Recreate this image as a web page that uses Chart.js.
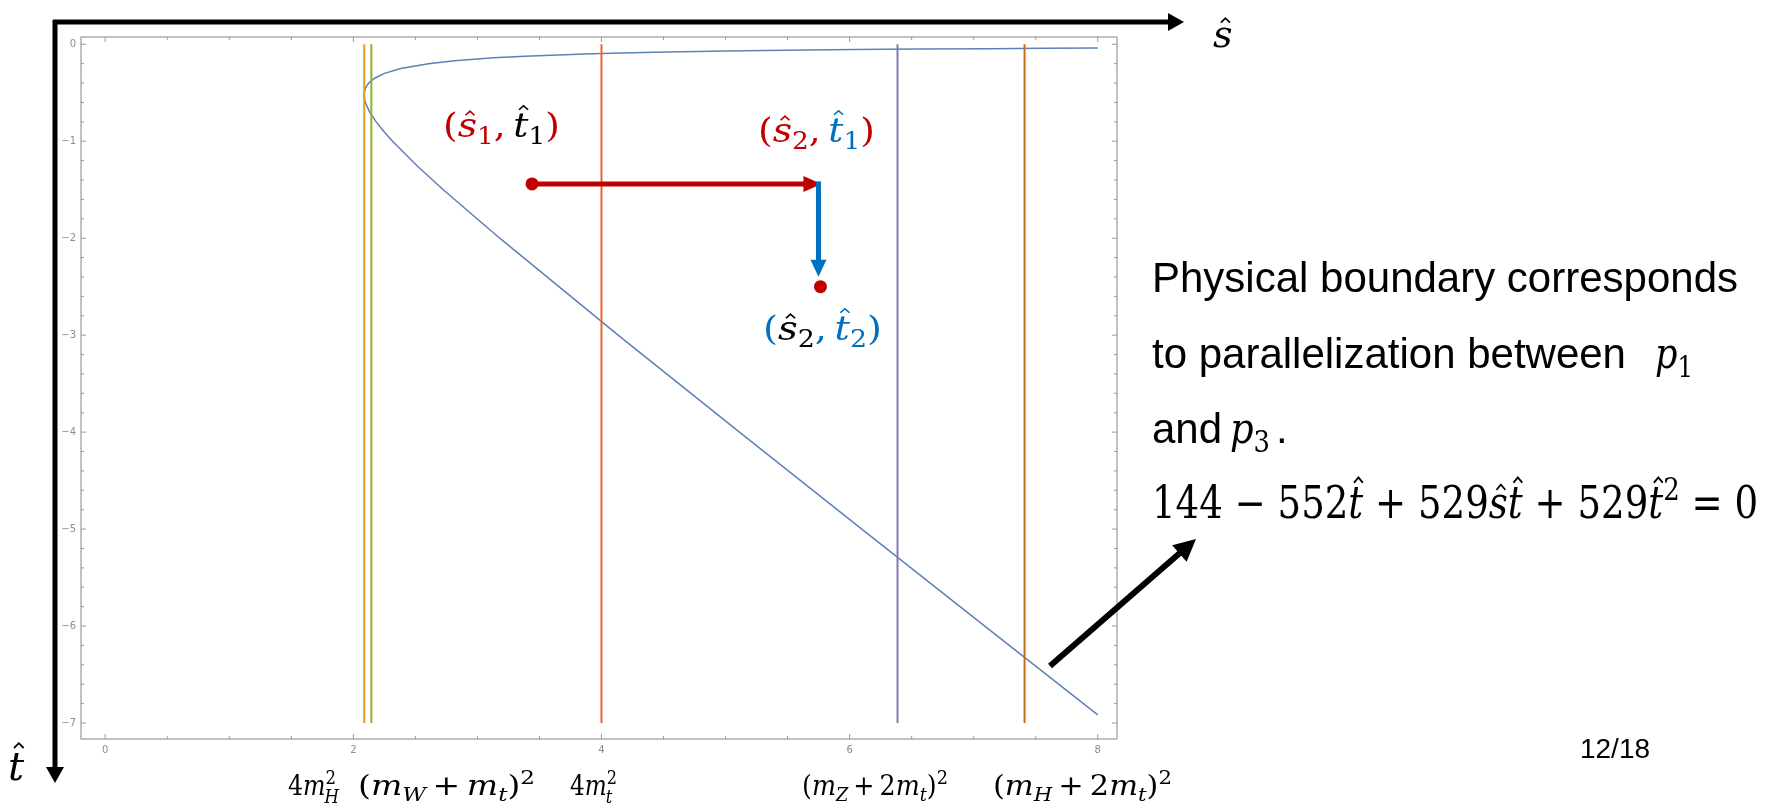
<!DOCTYPE html>
<html>
<head>
<meta charset="utf-8">
<script src="https://cdn.jsdelivr.net/npm/chart.js@4.4.0/dist/chart.umd.min.js"></script>
<style>
  html, body { margin: 0; padding: 0; background: #ffffff; }
  #wrap { width: 1769px; height: 810px; }
</style>
</head>
<body>
<div id="wrap"><canvas id="boundaryChart" width="1769" height="810"></canvas></div>
<script>
/* ── Data ── */

// physical boundary 144 - 552t + 529st + 529t^2 = 0, traced point by point
const boundaryS = [8.0, 7.567, 7.138, 6.538, 6.048, 5.641, 5.002, 4.526, 4.158, 3.866,
                   3.432, 3.128, 2.815, 2.605, 2.382, 2.251, 2.171, 2.124, 2.098, 2.088,
                   2.088, 2.097, 2.132, 2.184, 2.246, 2.316, 2.511, 2.725, 3.180, 4.134,
                   5.112, 6.098, 7.089, 8.0];
const boundaryT = [-0.039, -0.042, -0.045, -0.05, -0.055, -0.06, -0.07, -0.08, -0.09, -0.1,
                   -0.12, -0.14, -0.17, -0.2, -0.25, -0.3, -0.35, -0.4, -0.45, -0.5,
                   -0.55, -0.6, -0.7, -0.8, -0.9, -1.0, -1.25, -1.5, -2.0, -3.0,
                   -4.0, -5.0, -6.0, -6.917];

// thresholds: 4mH^2, (mW+mt)^2, 4mt^2, (mZ+2mt)^2, (mH+2mt)^2
const thresholdS = [2.088, 2.145, 4.0, 6.386, 7.41];
const thresholdT = [0, -7];

// (s1,t1) -> (s2,t1) -> (s2,t2)
const pathS = [3.44, 5.765];
const pathT = [-1.44, -2.50];

const xTicks = [0, 2, 4, 6, 8];
const yTicks = [0, -1, -2, -3, -4, -5, -6, -7];

/* ── Styles ── */
const thresholdColors = ['#E19C24', '#8FB032', '#EB6235', '#8778B3', '#C56E1A'];
const RED  = '#C00000';
const BLUE = '#0070C0';
const SERIF = '"DejaVu Serif"';
const THIN = '\u2009';


/* ============================================================
   Small math typesetter: segments with italic / sub / sup / hat
   ============================================================ */
function segFont(seg, size) {
    const sz = (seg.pos === 'sub' || seg.pos === 'sup') ? size * 0.7 : size;
    return (seg.it ? 'italic ' : '') + sz + 'px ' + SERIF;
}

function drawMath(ctx, segs, x, y, size, fitW) {
    ctx.save();
    let total = 0;
    const sizes = segs.map(seg => {
        let w;
        if (seg.stack) {
            ctx.font = (size * 0.7) + 'px ' + SERIF;
            const w1 = ctx.measureText(seg.stack[0]).width;
            ctx.font = 'italic ' + (size * 0.7) + 'px ' + SERIF;
            const w2 = ctx.measureText(seg.stack[1]).width;
            w = Math.max(w1, w2);
        } else {
            ctx.font = segFont(seg, size);
            w = ctx.measureText(seg.t).width;
        }
        const g = (seg.gap || 0) * size;
        total += w + g;
        return [w, g];
    });
    const k = fitW ? fitW / total : 1;
    ctx.translate(x, y);
    ctx.scale(k, 1);
    ctx.textBaseline = 'alphabetic';
    ctx.textAlign = 'left';
    let cx = 0;
    segs.forEach((seg, i) => {
        const [w, g] = sizes[i];
        cx += g;
        const col = seg.c || '#000000';
        ctx.fillStyle = col;
        if (seg.stack) {
            ctx.font = (size * 0.7) + 'px ' + SERIF;
            ctx.fillText(seg.stack[0], cx, -0.42 * size);
            ctx.font = 'italic ' + (size * 0.7) + 'px ' + SERIF;
            ctx.fillText(seg.stack[1], cx - 0.04 * size, 0.3 * size);
        } else {
            ctx.font = segFont(seg, size);
            let dy = 0;
            if (seg.pos === 'sub') dy = 0.22 * size;
            if (seg.pos === 'sup') dy = -0.42 * size;
            ctx.fillText(seg.t, cx, dy);
            if (seg.hat) {
                const c = cx + w / 2 + (seg.it ? 0.07 * size : 0);
                const base = -(seg.t === 't' ? 0.8 : 0.64) * size;
                ctx.strokeStyle = col;
                ctx.lineWidth = 0.045 * size;
                ctx.beginPath();
                ctx.moveTo(c - 0.12 * size, base);
                ctx.lineTo(c, base - 0.12 * size);
                ctx.lineTo(c + 0.12 * size, base);
                ctx.stroke();
            }
        }
        cx += w;
    });
    ctx.restore();
}

function arrow(ctx, x0, y0, x1, y1, width, headLen, headHalf, color) {
    const a = Math.atan2(y1 - y0, x1 - x0);
    const bx = x1 - headLen * Math.cos(a);
    const by = y1 - headLen * Math.sin(a);
    ctx.save();
    ctx.strokeStyle = color;
    ctx.fillStyle = color;
    ctx.lineWidth = width;
    ctx.lineCap = 'butt';
    ctx.beginPath();
    ctx.moveTo(x0, y0);
    ctx.lineTo(bx + Math.cos(a), by + Math.sin(a));
    ctx.stroke();
    ctx.beginPath();
    ctx.moveTo(x1, y1);
    ctx.lineTo(bx - headHalf * Math.sin(a), by + headHalf * Math.cos(a));
    ctx.lineTo(bx + headHalf * Math.sin(a), by - headHalf * Math.cos(a));
    ctx.closePath();
    ctx.fill();
    ctx.restore();
}


/* ============================================================
   Plugin 1 — Mathematica style frame with inward ticks
   ============================================================ */
const framePlugin = {
    id: 'frame',
    beforeDatasetsDraw(chart) {
        const { ctx, chartArea: a, scales: { x, y } } = chart;
        ctx.save();
        ctx.strokeStyle = '#9a9a9a';
        ctx.lineWidth = 1.2;
        ctx.strokeRect(a.left, a.top, a.right - a.left, a.bottom - a.top);

        const tick = (px, py, dx, dy) => {
            ctx.beginPath();
            ctx.moveTo(px, py);
            ctx.lineTo(px + dx, py + dy);
            ctx.stroke();
        };

        // x ticks: majors every 2, minors every 0.5
        ctx.lineWidth = 1;
        xTicks.forEach((v, i) => {
            const px = x.getPixelForValue(v);
            tick(px, a.bottom, 0, -5);
            tick(px, a.top, 0, 5);
            if (i < xTicks.length - 1) {
                for (let m = 1; m < 4; m++) {
                    const pm = x.getPixelForValue(v + m * 0.5);
                    tick(pm, a.bottom, 0, -3);
                    tick(pm, a.top, 0, 3);
                }
            }
        });
        // y ticks: majors every 1, minors every 0.2
        yTicks.forEach((v, i) => {
            const py = y.getPixelForValue(v);
            tick(a.left, py, 5, 0);
            tick(a.right, py, -5, 0);
            if (i < yTicks.length - 1) {
                for (let m = 1; m < 5; m++) {
                    const pm = y.getPixelForValue(v - m * 0.2);
                    tick(a.left, pm, 3, 0);
                    tick(a.right, pm, -3, 0);
                }
            }
        });

        // tick labels
        ctx.fillStyle = '#8c8c8c';
        ctx.font = '10px "DejaVu Sans"';
        ctx.textBaseline = 'middle';
        ctx.textAlign = 'center';
        const fmt = v => v < 0 ? '\u2212' + Math.abs(v) : String(v);
        xTicks.forEach(v => ctx.fillText(fmt(v), x.getPixelForValue(v), a.bottom + 11));
        ctx.textAlign = 'right';
        yTicks.forEach(v => ctx.fillText(fmt(v), a.left - 5, y.getPixelForValue(v)));
        ctx.restore();
    }
};


/* ============================================================
   Plugin 2 — slide annotations (arrows, labels, notes)
   ============================================================ */
const notesPlugin = {
    id: 'notes',
    afterDraw(chart) {
        const { ctx, scales: { x, y } } = chart;

        /* step arrows inside the plot */
        const x1 = x.getPixelForValue(pathS[0]);
        const x2 = x.getPixelForValue(pathS[1]);
        const y1 = y.getPixelForValue(pathT[0]);
        const y2 = y.getPixelForValue(pathT[1]);
        arrow(ctx, x1, y1, x2 + 1, y1, 5, 18, 8, RED);
        arrow(ctx, x2 - 2, y1 - 2.5, x2 - 2, y2 - 10, 5, 17, 8, BLUE);

        /* point labels */
        const pl = 34;
        drawMath(ctx, [
            { t: '(', c: RED },
            { t: 's', c: RED, it: true, hat: true },
            { t: '1', c: RED, pos: 'sub' },
            { t: ',', c: RED },
            { t: 't', c: '#000000', it: true, hat: true, gap: 0.2 },
            { t: '1', c: '#000000', pos: 'sub' },
            { t: ')', c: RED }
        ], 443, 137, pl, 117);
        drawMath(ctx, [
            { t: '(', c: RED },
            { t: 's', c: RED, it: true, hat: true },
            { t: '2', c: RED, pos: 'sub' },
            { t: ',', c: RED },
            { t: 't', c: BLUE, it: true, hat: true, gap: 0.2 },
            { t: '1', c: BLUE, pos: 'sub' },
            { t: ')', c: RED }
        ], 758, 142, pl, 117);
        drawMath(ctx, [
            { t: '(', c: BLUE },
            { t: 's', c: '#000000', it: true, hat: true },
            { t: '2', c: '#000000', pos: 'sub' },
            { t: ',', c: BLUE },
            { t: 't', c: BLUE, it: true, hat: true, gap: 0.2 },
            { t: '2', c: BLUE, pos: 'sub' },
            { t: ')', c: BLUE }
        ], 763, 340, pl, 119);

        /* coordinate arrows */
        arrow(ctx, 53, 22, 1184, 22, 5, 16, 9, '#000000');
        arrow(ctx, 55, 20, 55, 783, 5, 16, 9, '#000000');
        drawMath(ctx, [{ t: 's', it: true, hat: true }], 1213, 47, 38);
        drawMath(ctx, [{ t: 't', it: true, hat: true }], 8, 780, 40);

        /* threshold labels under the axis */
        const lab = 27;
        drawMath(ctx, [
            { t: '4' }, { t: 'm', it: true }, { stack: ['2', 'H'] }
        ], 288, 795, lab, 52);
        drawMath(ctx, [
            { t: '(' }, { t: 'm', it: true }, { t: 'W', it: true, pos: 'sub' },
            { t: THIN + '+' + THIN }, { t: 'm', it: true }, { t: 't', it: true, pos: 'sub' },
            { t: ')' }, { t: '2', pos: 'sup' }
        ], 358, 795, lab, 177);
        drawMath(ctx, [
            { t: '4' }, { t: 'm', it: true }, { stack: ['2', 't'] }
        ], 570, 795, lab, 47);
        drawMath(ctx, [
            { t: '(' }, { t: 'm', it: true }, { t: 'Z', it: true, pos: 'sub' },
            { t: THIN + '+' + THIN + '2' }, { t: 'm', it: true }, { t: 't', it: true, pos: 'sub' },
            { t: ')' }, { t: '2', pos: 'sup' }
        ], 802, 795, lab, 146);
        drawMath(ctx, [
            { t: '(' }, { t: 'm', it: true }, { t: 'H', it: true, pos: 'sub' },
            { t: THIN + '+' + THIN + '2' }, { t: 'm', it: true }, { t: 't', it: true, pos: 'sub' },
            { t: ')' }, { t: '2', pos: 'sup' }
        ], 993, 795, lab, 179);

        /* side note */
        ctx.save();
        ctx.fillStyle = '#000000';
        ctx.font = '42px "Liberation Sans"';
        ctx.textBaseline = 'alphabetic';
        ctx.textAlign = 'left';
        ctx.fillText('Physical boundary corresponds', 1152, 292);
        ctx.fillText('to parallelization between', 1152, 368);
        ctx.fillText('and', 1152, 443);
        ctx.fillText('.', 1276, 443);
        ctx.restore();
        drawMath(ctx, [{ t: 'p', it: true }, { t: '1', pos: 'sub' }], 1655, 368, 42, 38);
        drawMath(ctx, [{ t: 'p', it: true }, { t: '3', pos: 'sub' }], 1230, 443, 42, 40);
        drawMath(ctx, [
            { t: '144 \u2212 552' }, { t: 't', it: true, hat: true },
            { t: ' + 529' }, { t: 's', it: true, hat: true }, { t: 't', it: true, hat: true },
            { t: ' + 529' }, { t: 't', it: true, hat: true }, { t: '2', pos: 'sup' },
            { t: ' = 0' }
        ], 1152, 518, 44, 606);

        /* black pointer to the curve */
        arrow(ctx, 1050, 666, 1196, 539, 6, 22, 11, '#000000');

        /* slide number */
        ctx.save();
        ctx.fillStyle = '#000000';
        ctx.font = '28px "Liberation Sans"';
        ctx.textAlign = 'center';
        ctx.textBaseline = 'alphabetic';
        ctx.fillText('12/18', 1615, 758);
        ctx.restore();
    }
};


/* ============================================================
   Chart — boundary curve + threshold lines
   ============================================================ */
const thresholdSets = thresholdS.map((s, i) => ({
    label: 'threshold ' + (i + 1),
    data: thresholdT.map(t => ({ x: s, y: t })),
    showLine: true,
    borderColor: thresholdColors[i],
    borderWidth: 2,
    pointRadius: 0
}));

new Chart(document.getElementById('boundaryChart'), {
    type: 'scatter',
    data: {
        datasets: [
            {
                label: 'steps',
                data: pathS.map((s, i) => ({ x: s, y: pathT[i] })),
                pointRadius: 6.5,
                pointBackgroundColor: RED,
                pointBorderWidth: 0,
                showLine: false
            },
            ...thresholdSets,
            {
                label: 'boundary',
                data: boundaryS.map((s, i) => ({ x: s, y: boundaryT[i] })),
                showLine: true,
                borderColor: '#5E81B5',
                borderWidth: 1.5,
                pointRadius: 0,
                tension: 0
            }
        ]
    },
    options: {
        responsive: false,
        devicePixelRatio: 1,
        animation: false,
        layout: { padding: { left: 81, top: 37, right: 652, bottom: 71 } },
        plugins: { legend: { display: false }, tooltip: { enabled: false } },
        scales: {
            x: { type: 'linear', min: -0.195, max: 8.155, display: false },
            y: { type: 'linear', min: -7.165, max: 0.075, display: false }
        }
    },
    plugins: [framePlugin, notesPlugin]
});
</script>
</body>
</html>
